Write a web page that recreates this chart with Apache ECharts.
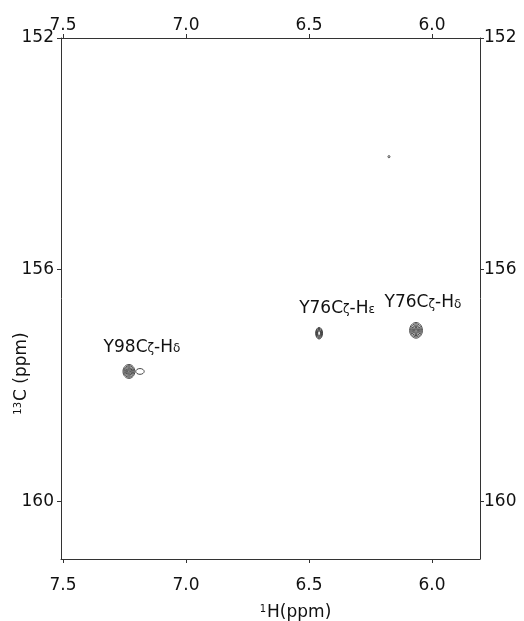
<!DOCTYPE html>
<html>
<head>
<meta charset="utf-8">
<script src="https://cdn.jsdelivr.net/npm/echarts@6/dist/echarts.min.js"></script>
<style>
  html, body { margin: 0; padding: 0; background: #fff; }
  #chart { width: 524px; height: 621px; }
</style>
</head>
<body>
<div id="chart"></div>
<script>
// Axis ranges and ticks (ppm)
const xRange = [5.805, 7.508];
const yRange = [152, 161];
const xTicks = [6.0, 6.5, 7.0, 7.5];
const yTicks = [152, 156, 160];

// Peaks: centre (1H, 13C) and half-widths of the outer contour (ppm)
const peakH = [7.232, 7.187, 6.459, 6.065, 6.175];
const peakC = [157.76, 157.76, 157.10, 157.05, 154.05];
const peakRx = [0.024, 0.017, 0.014, 0.026, 0.004];
const peakRy = [0.12, 0.05, 0.10, 0.135, 0.02];
const peakLevels = [7, 1, 5, 7, 1];

// Relative size of each contour level
const contourScale = [1, 0.84, 0.68, 0.53, 0.39, 0.26, 0.14];

// Peak labels
const labelText = ['Y98C{g|ζ}-H{g|δ}', 'Y76C{g|ζ}-H{g|ε}', 'Y76C{g|ζ}-H{g|δ}'];
const labelH = [7.179, 6.386, 6.037];
const labelC = [157.34, 156.67, 156.57];

const chart = echarts.init(document.getElementById('chart'));

const font = 'DejaVu Sans';
const axisColor = '#333';
const textColor = '#111';

const xAxisBase = (pos, margin) => ({
    type: 'value',
    position: pos,
    inverse: true,
    min: xRange[0],
    max: xRange[1],
    axisLine: { show: true, onZero: false, lineStyle: { color: axisColor, width: 1 } },
    axisTick: { show: true, length: 4, customValues: xTicks, lineStyle: { color: axisColor } },
    axisLabel: {
        show: true, customValues: xTicks, margin: margin,
        fontFamily: font, fontSize: 17, color: textColor,
        formatter: v => v.toFixed(1)
    },
    splitLine: { show: false }
});

const yAxisBase = (pos, margin) => ({
    type: 'value',
    position: pos,
    inverse: true,
    min: yRange[0],
    max: yRange[1],
    axisLine: { show: true, onZero: false, lineStyle: { color: axisColor, width: 1 } },
    axisTick: { show: true, length: 4, customValues: yTicks, lineStyle: { color: axisColor } },
    axisLabel: {
        show: true, customValues: yTicks, margin: margin,
        fontFamily: font, fontSize: 17, color: textColor
    },
    splitLine: { show: false }
});

const supStyle = { fontFamily: font, fontSize: 10, verticalAlign: 'top', padding: [0, 1, 8, 0], color: textColor };

const bottomX = xAxisBase('bottom', 18);
bottomX.name = '{s|1}H(ppm)';
bottomX.nameLocation = 'middle';
bottomX.nameGap = 45;
bottomX.nameMoveOverlap = false;
bottomX.nameTextStyle = {
    fontFamily: font, fontSize: 17, color: textColor,
    padding: [0, 0, 0, 50],
    rich: { s: supStyle }
};

const leftY = yAxisBase('left', 7);
leftY.name = '{s|13}C (ppm)';
leftY.nameLocation = 'middle';
leftY.nameGap = 30;
leftY.nameMoveOverlap = false;
leftY.nameTextStyle = {
    fontFamily: font, fontSize: 17, color: textColor,
    padding: [0, 150, 0, 0],
    rich: { s: supStyle }
};

const peakData = peakH.map((h, i) => [h, peakC[i], peakRx[i], peakRy[i], peakLevels[i]]);
const labelData = labelH.map((h, i) => ({ value: [h, labelC[i]], name: labelText[i] }));

chart.setOption({
    animation: false,
    backgroundColor: '#fff',
    grid: { left: 61, right: 44, top: 38, bottom: 62, outerBoundsMode: 'none' },
    xAxis: [bottomX, xAxisBase('top', 4)],
    yAxis: [leftY, yAxisBase('right', 4)],
    series: [
        {
            type: 'custom',
            xAxisIndex: 0,
            yAxisIndex: 0,
            data: peakData,
            renderItem: function (params, api) {
                const c = api.coord([api.value(0), api.value(1)]);
                const sz = api.size([api.value(2), api.value(3)]);
                const n = api.value(4);
                const children = [];
                for (let k = 0; k < n; k++) {
                    const f = contourScale[k];
                    children.push({
                        type: 'ellipse',
                        shape: { cx: c[0], cy: c[1], rx: Math.max(sz[0] * f, 0.6), ry: Math.max(sz[1] * f, 0.6) },
                        style: { fill: 'none', stroke: '#333', lineWidth: 0.9 }
                    });
                }
                return { type: 'group', children: children };
            }
        },
        {
            type: 'scatter',
            xAxisIndex: 0,
            yAxisIndex: 0,
            symbolSize: 0,
            itemStyle: { opacity: 1 },
            data: labelData,
            label: {
                show: true,
                position: 'inside',
                formatter: p => p.name,
                fontFamily: font,
                fontSize: 17,
                color: textColor,
                rich: { g: { fontFamily: font, fontSize: 12, color: textColor, padding: [4, 0, 0, 0] } }
            }
        }
    ]
});
</script>
</body>
</html>
